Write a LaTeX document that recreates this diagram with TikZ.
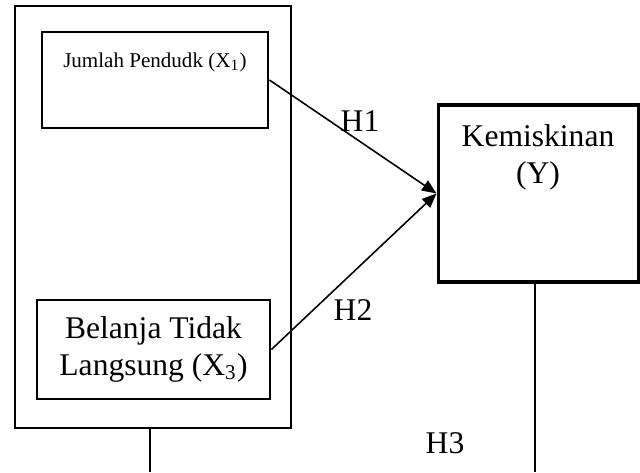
\documentclass[tikz,border=0pt]{standalone}
\usepackage{fontspec}
\setmainfont{Liberation Serif}
\usetikzlibrary{arrows.meta}
\def\u{0.38pt}
\tikzset{
  varbox/.style={draw, line width=1.05pt, inner sep=0pt},
  groupbox/.style={draw, line width=0.45pt, inner sep=0pt},
  path arrow/.style={line width=0.6pt, -{Triangle[length=5.5pt,width=4.5pt]}},
  hlabel/.style={inner sep=0pt}
}
\begin{document}
\begin{tikzpicture}[x=0.38pt, y=-0.38pt, font=\fontsize{12}{13.8}\selectfont]
  \useasboundingbox (0,0) rectangle (640,472);
  % Kotak variabel bebas
  \node[groupbox, minimum width=276*\u, minimum height=422*\u] (grp) at (153,217) {};
  \node[varbox, minimum width=226*\u, minimum height=96*\u,
        label={[anchor=north, yshift=-13*\u, font=\fontsize{8}{9.6}\selectfont]north:Jumlah Pendudk (X\textsubscript{1})}]
        (x1) at (155,80) {};
  \node[varbox, minimum width=233*\u, minimum height=99*\u, align=center]
        (x3) at (153.5,349.5) {Belanja Tidak\\Langsung (X\textsubscript{3})};
  % Variabel terikat
  \node[varbox, line width=1.15pt, minimum width=200*\u, minimum height=177*\u, align=center,
        label={[anchor=north, yshift=-12*\u, align=center]north:Kemiskinan\\(Y)}]
        (y) at (538,193.5) {};
  % Panah hipotesis
  \draw[path arrow] (x1.east) -- (y.west);
  \draw[path arrow] (x3.east) -- (y.west);
  \node[hlabel] (h1) at (360,121) {H1};
  \node[hlabel] (h2) at (353,310) {H2};
  \node[hlabel] (h3) at (445,443) {H3};
  % Garis bawah
  \coordinate (gend) at (150,472);
  \coordinate (yend) at (535,472);
  \draw[line width=0.5pt] (grp.south -| gend) -- (gend);
  \draw[line width=0.5pt] (y.south -| yend) -- (yend);
\end{tikzpicture}
\end{document}
